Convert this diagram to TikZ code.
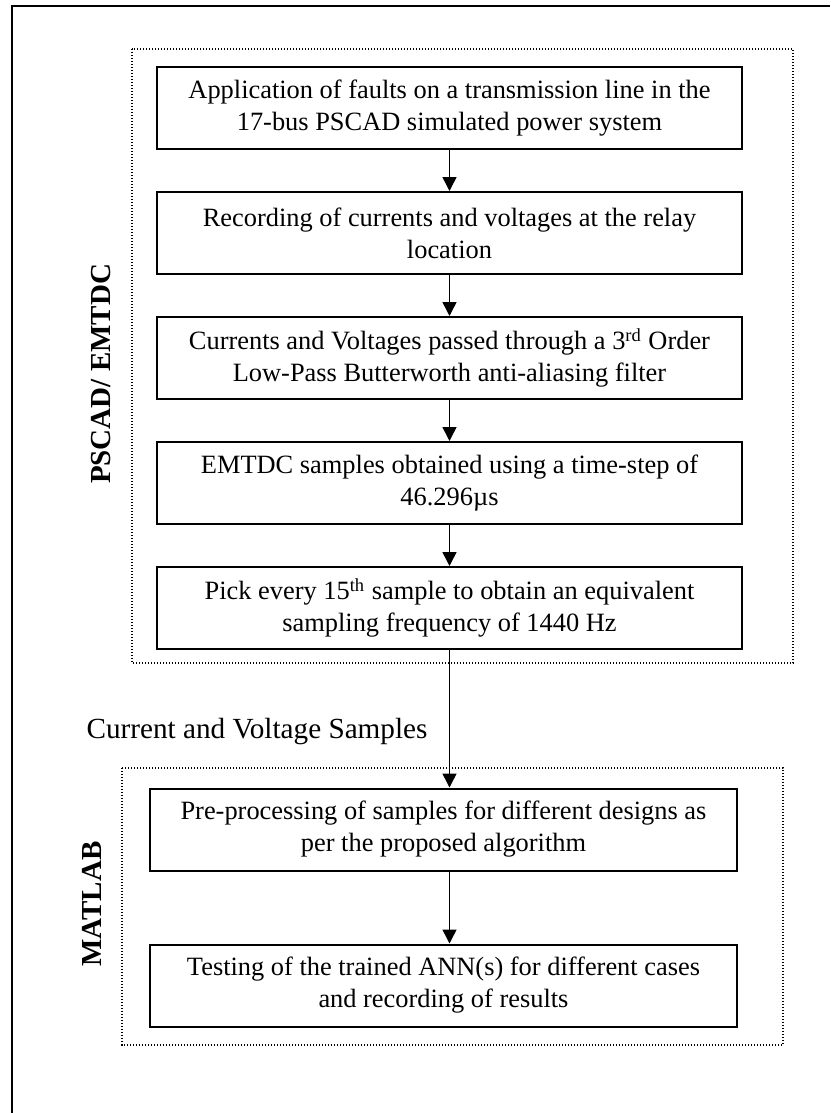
\documentclass[tikz,border=0pt]{standalone}
\usepackage{fontspec}
\setmainfont{Liberation Serif}
\usetikzlibrary{positioning,arrows.meta}

\begin{document}
\begin{tikzpicture}[x=0.5pt,y=-0.5pt,
    stage/.style={draw,line width=1pt,minimum width=292.5pt,minimum height=41pt,
      inner sep=0pt,align=center,font=\fontsize{13.2}{16}\selectfont},
    flow/.style={line width=0.75pt,-{Triangle[length=7pt,width=7pt]}},
    group/.style={line width=0.6pt,dash pattern=on 0.6pt off 0.9pt},
    side/.style={rotate=90,font=\fontsize{14.5}{17}\selectfont\bfseries},
    node distance=20.5pt]
    \useasboundingbox (0,0) rectangle (830,1113);
    \draw[line width=1.4pt] (12,1113) |- (830,6);

    % simulation part
    \node[stage] (apply) at (449.5,108) {Application of faults on a transmission line in the\\17-bus PSCAD simulated power system};
    \node[stage,below=of apply] (record) {Recording of currents and voltages at the relay\\location};
    \node[stage,below=of record] (filter) {Currents and Voltages passed through a 3\textsuperscript{rd} Order\\Low-Pass Butterworth anti-aliasing filter};
    \node[stage,below=of filter] (emtdc) {EMTDC samples obtained using a time-step of\\46.296µs};
    \node[stage,below=of emtdc] (pick) {Pick every 15\textsuperscript{th} sample to obtain an equivalent\\sampling frequency of 1440 Hz};
    \draw[group] (132,49) rectangle (793,663);
    \node[side] (pscad) at (101,374) {PSCAD/ EMTDC};

    \node[font=\fontsize{14.6}{17}\selectfont] (samples) at (257,732) {Current and Voltage Samples};

    % matlab part
    \node[stage,minimum width=293.5pt] (prep) at (443.5,829.5) {Pre-processing of samples for different designs as\\per the proposed algorithm};
    \node[stage,minimum width=293.5pt,below=36pt of prep] (test) {Testing of the trained ANN(s) for different cases\\and recording of results};
    \draw[group] (122,768) rectangle (783,1045);
    \node[side] (matlab) at (92,904) {MATLAB};

    \draw[flow] (apply) -- (record);
    \draw[flow] (record) -- (filter);
    \draw[flow] (filter) -- (emtdc);
    \draw[flow] (emtdc) -- (pick);
    \draw[flow] (pick.south) -- (pick.south |- prep.north);
    \draw[flow] (prep.south -| pick.south) -- (pick.south |- test.north);
\end{tikzpicture}
\end{document}
